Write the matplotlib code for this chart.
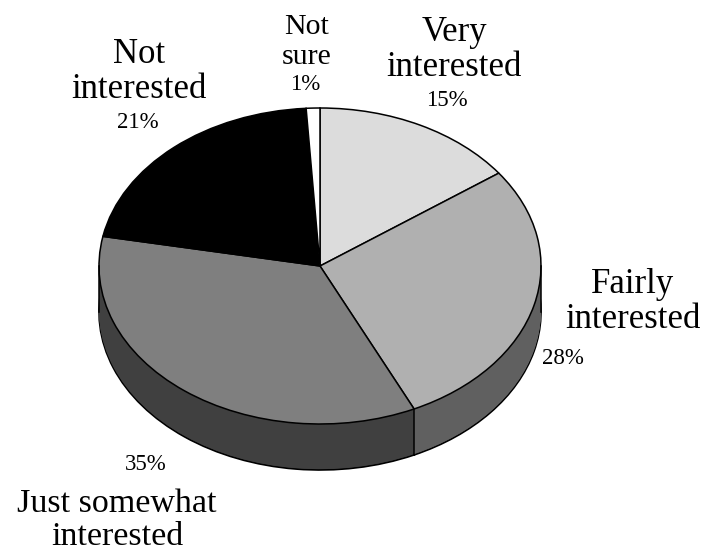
import math
import matplotlib
matplotlib.use("Agg")
import matplotlib.pyplot as plt

plt.rcParams["font.family"] = "Liberation Serif"

categories = ["Very\ninterested", "Fairly\ninterested", "Just somewhat\ninterested", "Not\ninterested", "Not\nsure"]
values = [15, 28, 35, 21, 1]
top_colors = ["#dcdcdc", "#b0b0b0", "#7f7f7f", "#000000", "#ffffff"]
wall_colors = ["#606060", "#606060", "#404040", "#000000", "#ffffff"]
pct_labels = ["15%", "28%", "35%", "21%", "1%"]

W, H = 705, 553
CX, CY, RX, RY, DEPTH = 320, 266, 221, 158, 46

fig = plt.figure(figsize=(W / 100, H / 100), dpi=100)
ax = fig.add_axes([0, 0, 1, 1])


def pie_at(offset, edge, lw, colors):
    ax.pie(values, colors=colors, startangle=90, counterclock=False,
           center=(0, -offset / RY), radius=1, frame=False,
           wedgeprops=dict(edgecolor=edge, linewidth=lw))


pie_at(DEPTH, "black", 1.2, wall_colors)
for off in range(DEPTH - 1, 0, -1):
    pie_at(off, "none", 0, wall_colors)
pie_at(0, "black", 1.1, top_colors)

ax.set_aspect("auto")
ax.set_xlim(-CX / RX, (W - CX) / RX)
ax.set_ylim(-(H - CY) / RY, CY / RY)
ax.axis("off")

# vertical edges of the wall: the front divider and the two silhouette sides
angle = 2 * math.pi * sum(values[:2]) / sum(values)
div_x, div_y = math.sin(angle), math.cos(angle)
ax.plot([div_x, div_x], [div_y, div_y - DEPTH / RY], color="black", lw=1.1)
for side in (-1, 1):
    ax.plot([side, side], [0, -DEPTH / RY], color="black", lw=1.1)


def px(x, y):
    return (x - CX) / RX, (CY - y) / RY


label_style = [(454, 50, 25, 1.07), (633, 302, 25, 1.07), (117, 520, 24.5, 1.1),
               (139, 72, 25, 1.07), (307, 42, 21.5, 1.25)]
pct_pos = [(447, 100), (563, 358), (146, 464), (138, 122), (305, 85)]
for cat, (x, y, fs, ls) in zip(categories, label_style):
    ax.text(*px(x, y), cat, ha="center", va="center", fontsize=fs, linespacing=ls, color="black")
for pct, (x, y) in zip(pct_labels, pct_pos):
    ax.text(*px(x, y), pct, ha="center", va="center", fontsize=16.5, color="black")

fig.savefig("out.png", dpi=100)
